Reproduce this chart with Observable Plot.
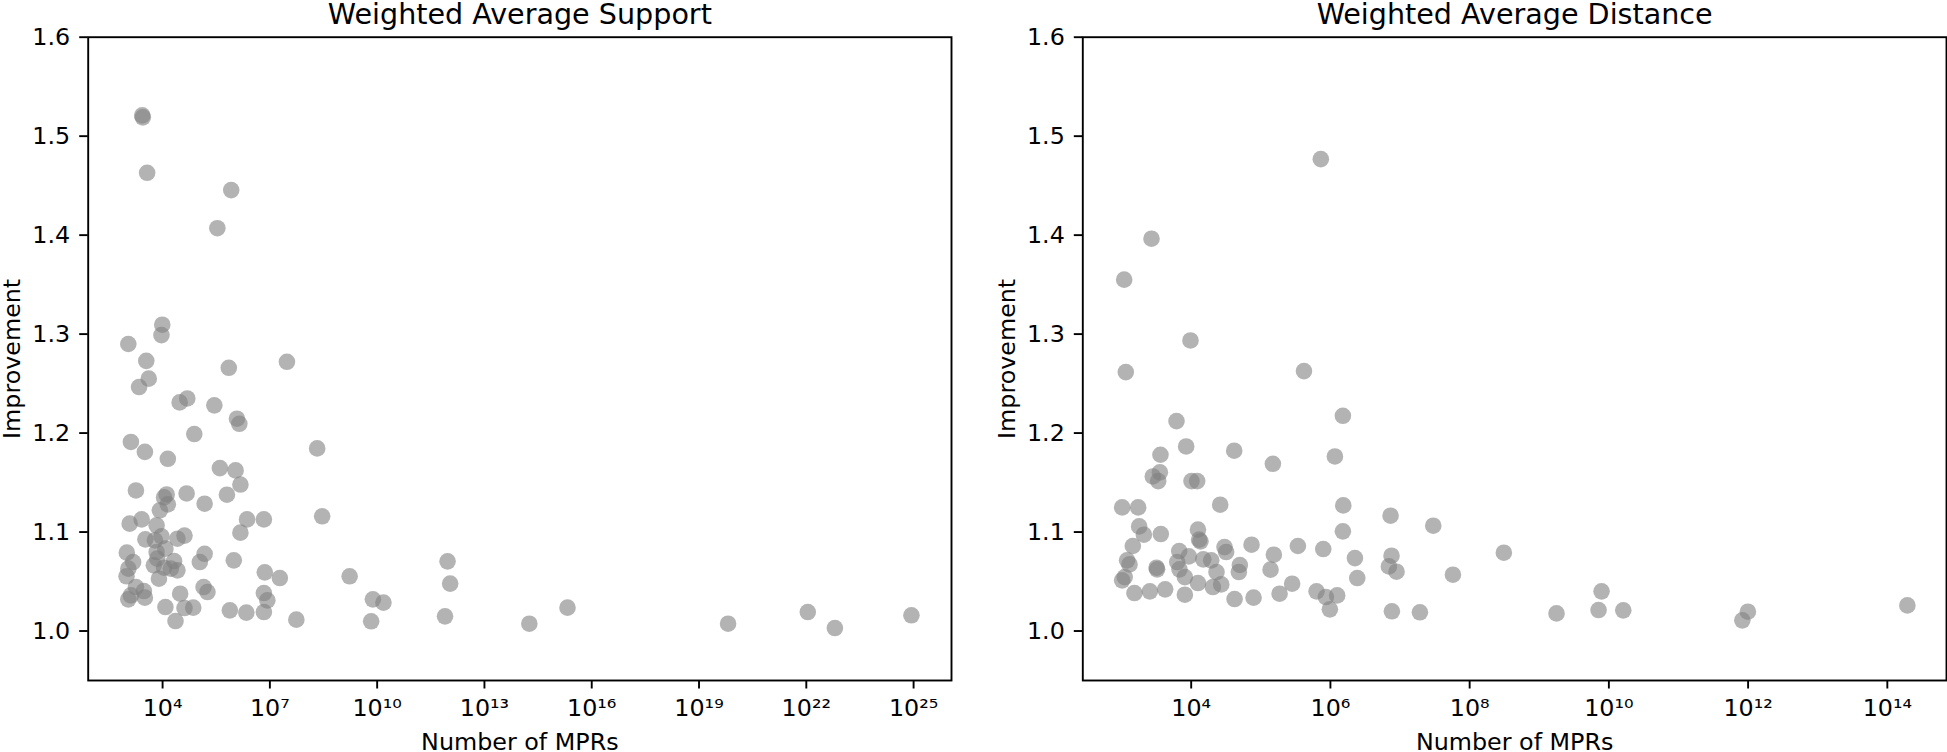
<!DOCTYPE html>
<html>
<head>
<meta charset="utf-8">
<script src="https://cdn.jsdelivr.net/npm/d3@7"></script>
<script src="https://cdn.jsdelivr.net/npm/@observablehq/plot@0.6"></script>
<style>
  html, body { margin: 0; padding: 0; background: white; }
  #wrap { position: relative; width: 1947px; height: 752px; overflow: hidden; }
  #wrap > div { position: absolute; top: 0; }
</style>
</head>
<body>
<div id="wrap"><div id="left"></div><div id="right"></div></div>
<script>
// ---- Data: Weighted Average Support (left panel) ----
const supportMPRs = [
  2.7e3, 2.8e3, 3.7e3, 8.3e5, 3.4e5, 9.8e3, 9.3e3, 1.1e3, 3.5e3, 7.1e5,
  3.0e7, 4.1e3, 2.2e3, 3.0e4, 4.9e4, 2.8e5, 1.2e6, 1.4e6, 1.3e3, 3.2e3,
  7.7e4, 1.4e4, 2.1e8, 4.0e5, 1.1e6, 1.5e6, 6.3e5, 1.8e3, 4.7e4, 1.5e5,
  1.1e4, 1.3e4, 1.4e4, 8.4e3, 2.6e3, 1.2e3, 6.8e3, 2.3e6, 6.8e6, 2.9e8,
  1.5e6, 3.3e3, 6.1e3, 9.3e3, 2.6e4, 4.1e4, 1.2e4, 1.0e3, 6.8e3, 1.5e5,
  1.1e5, 1.5e3, 7.1e3, 5.7e3, 2.1e4, 1.1e4, 1.7e4, 2.6e4, 1.1e3, 9.8e2,
  7.9e3, 9.8e5, 7.2e6, 1.8e3, 3.0e3, 1.4e5, 1.8e5, 1.3e3, 3.2e3, 1.1e3,
  3.1e4, 6.8e6, 8.5e6, 1.2e4, 4.1e4, 7.2e4, 7.6e5, 2.2e6, 6.8e6, 2.3e4,
  1.9e7, 5.5e7, 1.7e9, 7.6e9, 1.5e10, 6.8e9, 9.3e11, 1.1e12, 7.9e11, 1.8e14,
  2.1e15, 6.5e19, 1.1e22, 6.3e22, 8.7e24
];
const supportImprovement = [
  1.521, 1.519, 1.463, 1.4455, 1.407, 1.3095, 1.299, 1.290, 1.273, 1.266,
  1.272, 1.255, 1.2465, 1.231, 1.235, 1.228, 1.2145, 1.2094, 1.191, 1.181,
  1.199, 1.174, 1.1845, 1.1646, 1.1623, 1.148, 1.1377, 1.142, 1.139, 1.1286,
  1.135, 1.138, 1.128, 1.122, 1.1128, 1.1085, 1.1068, 1.1128, 1.1128, 1.1159,
  1.0994, 1.0926, 1.0916, 1.0957, 1.0933, 1.0964, 1.0832, 1.0792, 1.0798, 1.078,
  1.0697, 1.0697, 1.0731, 1.0664, 1.0707, 1.064, 1.063, 1.0613, 1.063, 1.0553,
  1.0529, 1.0714, 1.0593, 1.0444, 1.0404, 1.0444, 1.0394, 1.036, 1.0337, 1.032,
  1.0377, 1.0384, 1.031, 1.0242, 1.0232, 1.0236, 1.0209, 1.0186, 1.0192, 1.0101,
  1.0535, 1.0115, 1.0553, 1.032, 1.0287, 1.0098, 1.0704, 1.0479, 1.0148, 1.0074,
  1.0236, 1.0074, 1.0192, 1.003, 1.0159
];

// ---- Data: Weighted Average Distance (right panel) ----
const distanceMPRs = [
  7.28e5, 2.69e3, 1.09e3, 9.77e3, 1.15e3, 4.17e5, 1.51e6, 6.15e3, 8.47e3, 4.15e4,
  3.62e3, 1.16e6, 1.49e5, 2.81e3, 3.55e3, 3.36e3, 1.01e4, 1.22e4, 2.61e4, 1.53e6,
  1.02e3, 1.73e3, 7.31e6, 3.00e7, 1.79e3, 2.09e3, 3.66e3, 1.25e4, 1.51e6, 1.30e4,
  1.36e4, 1.45e3, 7.36e4, 3.41e5, 7.89e5, 6.73e3, 3.01e4, 3.18e4, 9.25e3, 1.54e5,
  2.25e6, 7.55e6, 1.20e3, 1.30e3, 6.30e3, 1.49e4, 1.94e4, 3.18e3, 3.24e3, 6.79e3,
  5.00e4, 4.84e4, 2.31e4, 1.38e5, 6.92e6, 8.91e6, 2.43e6, 5.75e7, 1.11e3, 1.02e3,
  8.11e3, 1.25e4, 2.05e4, 2.70e4, 2.82e5, 1.53e3, 2.55e3, 4.23e3, 8.11e3, 4.20e4,
  7.87e4, 1.86e5, 6.32e5, 8.61e5, 1.25e6, 9.82e5, 7.64e6, 1.93e7, 3.10e8, 1.77e9,
  7.85e9, 7.11e9, 1.61e10, 9.93e11, 8.26e11, 1.94e14
];
const distanceImprovement = [
  1.4768, 1.3964, 1.355, 1.2936, 1.2616, 1.2626, 1.2175, 1.2121, 1.1865, 1.1822,
  1.1781, 1.1764, 1.169, 1.1562, 1.1603, 1.1515, 1.1515, 1.1515, 1.1276, 1.1269,
  1.1249, 1.1249, 1.1165, 1.1064, 1.1057, 1.0973, 1.098, 1.1024, 1.1007, 1.0923,
  1.0906, 1.0859, 1.0872, 1.0859, 1.0828, 1.0808, 1.0848, 1.0798, 1.0754, 1.0771,
  1.0737, 1.0761, 1.0714, 1.0673, 1.0697, 1.0724, 1.0714, 1.064, 1.0623, 1.0623,
  1.0667, 1.0596, 1.0596, 1.062, 1.0653, 1.0599, 1.0535, 1.0569, 1.0545, 1.0512,
  1.0545, 1.0485, 1.0444, 1.0471, 1.0478, 1.0384, 1.0401, 1.0421, 1.0367, 1.0323,
  1.0337, 1.0377, 1.0401, 1.0343, 1.036, 1.0219, 1.0199, 1.0189, 1.0791, 1.0178,
  1.0401, 1.0212, 1.0209, 1.0195, 1.0108, 1.0259
];

// ---- Tick values and labels ----
const supportTicks = [1e4, 1e7, 1e10, 1e13, 1e16, 1e19, 1e22, 1e25];
const supportTickLabels = ["10⁴", "10⁷", "10¹⁰", "10¹³", "10¹⁶", "10¹⁹", "10²²", "10²⁵"];
const distanceTicks = [1e4, 1e6, 1e8, 1e10, 1e12, 1e14];
const distanceTickLabels = ["10⁴", "10⁶", "10⁸", "10¹⁰", "10¹²", "10¹⁴"];
const yTicks = [1.0, 1.1, 1.2, 1.3, 1.4, 1.5, 1.6];

const titles = ["Weighted Average Support", "Weighted Average Distance"];
const xLabel = "Number of MPRs";
const yLabel = "Improvement";

function panel({mprs, imp, ticks, labels, xDomain, title, width, marginLeft, marginRight}) {
  const data = mprs.map((m, i) => ({mprs: m, improvement: imp[i]}));
  const lab = new Map(ticks.map((t, i) => [t, labels[i]]));
  return Plot.plot({
    width, height: 752,
    marginLeft, marginRight, marginTop: 36.7, marginBottom: 72,
    style: {fontFamily: "DejaVu Sans", fontSize: "23.8px", color: "black", background: "transparent", overflow: "visible"},
    x: {type: "log", domain: xDomain},
    y: {domain: [0.95, 1.6]},
    marks: [
      Plot.dot(data, {x: "mprs", y: "improvement", r: 8.3, fill: "gray", fillOpacity: 0.6}),
      Plot.frame({stroke: "black", strokeWidth: 1.9}),
      Plot.axisX({ticks, tickFormat: d => lab.get(d), tickSize: 8.5, tickPadding: 10, strokeWidth: 1.9, label: null}),
      Plot.axisY({ticks: yTicks, tickFormat: ".1f", tickSize: 8.5, tickPadding: 9.5, strokeWidth: 1.9, label: null}),
      Plot.text([title], {frameAnchor: "top", lineAnchor: "middle", textAnchor: "middle", dy: -22.85, fontSize: 28.6, text: d => d}),
      Plot.text([xLabel], {frameAnchor: "bottom", lineAnchor: "middle", textAnchor: "middle", dy: 61.4, text: d => d}),
      Plot.text([yLabel], {frameAnchor: "left", lineAnchor: "middle", textAnchor: "middle", rotate: -90, dx: -75.5, text: d => d})
    ]
  });
}

const left = panel({
  mprs: supportMPRs, imp: supportImprovement, ticks: supportTicks, labels: supportTickLabels,
  xDomain: [Math.pow(10, 1.92), Math.pow(10, 26.06)], title: titles[0],
  width: 980, marginLeft: 87.7, marginRight: 29
});
const right = panel({
  mprs: distanceMPRs, imp: distanceImprovement, ticks: distanceTicks, labels: distanceTickLabels,
  xDomain: [Math.pow(10, 2.443), Math.pow(10, 14.85)], title: titles[1],
  width: 967, marginLeft: 102.3, marginRight: 1
});
const L = document.getElementById("left");
const R = document.getElementById("right");
L.style.left = "0px";
R.style.left = "980px";
L.appendChild(left);
R.appendChild(right);
</script>
</body>
</html>
